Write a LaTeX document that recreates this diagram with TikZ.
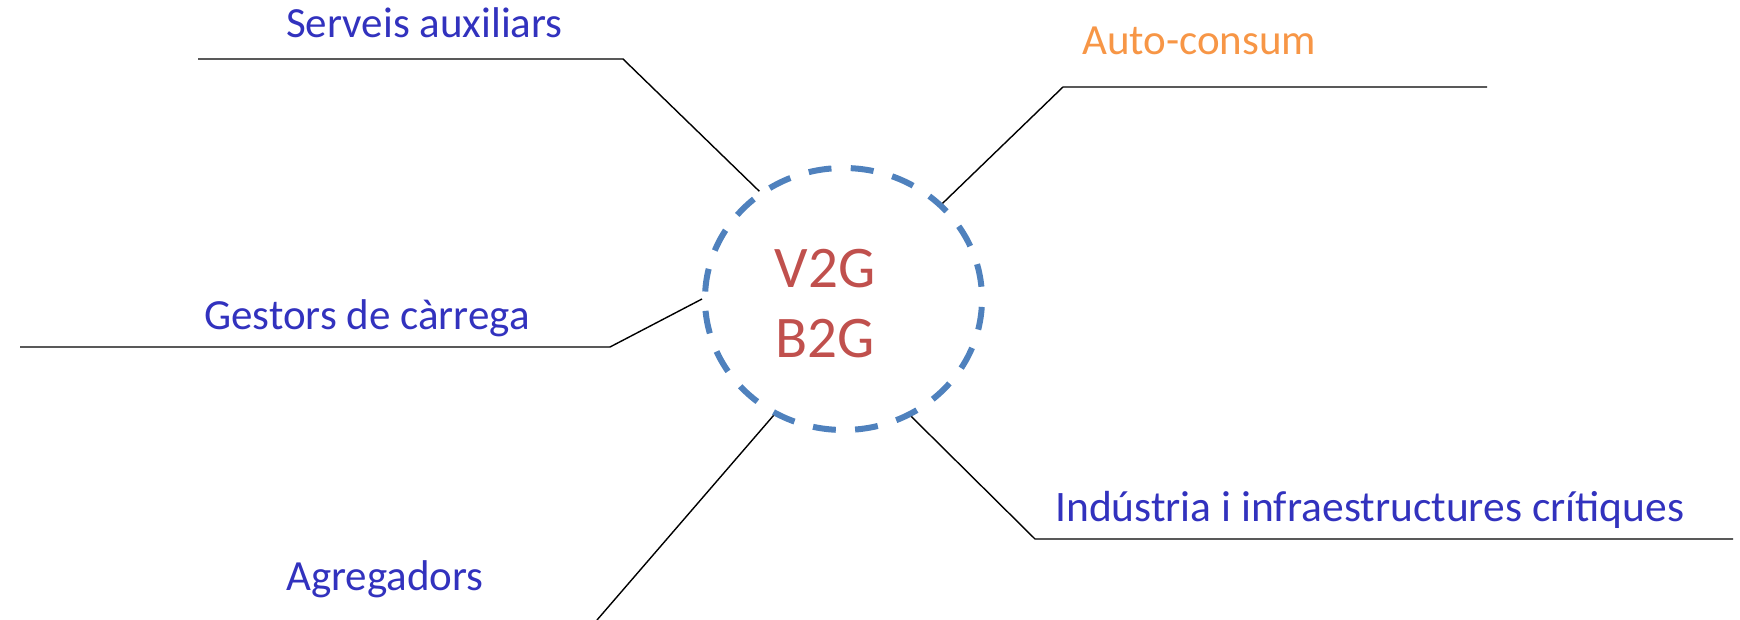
\documentclass[tikz,border=0pt]{standalone}
\usepackage{fontspec}
\setmainfont{Carlito}
\usetikzlibrary{shapes.geometric}
\definecolor{lblblue}{RGB}{50,50,190}
\definecolor{lblorange}{RGB}{247,150,70}
\definecolor{lblred}{RGB}{192,80,77}
\definecolor{ringblue}{RGB}{79,129,189}
\tikzset{
  lbl/.style={inner sep=0pt, anchor=base west, font=\fontsize{43}{50}\selectfont},
  core/.style={inner sep=0pt, anchor=base, text=lblred, font=\fontsize{59}{68}\selectfont},
  ring/.style={ellipse, draw=ringblue, line width=6pt, minimum width=277pt, minimum height=262pt, inner sep=0pt, dash pattern=on 23pt off 19.3pt, dash phase=30pt},
  leader/.style={draw=black, line width=1.4pt, line join=miter}
}
\begin{document}
\begin{tikzpicture}[x=1pt,y=-1pt]
\useasboundingbox (0,0) rectangle (1740,620);
\node[ring] (c) at (843.5,299) {};
\node[core] (v2g) at (825,288) {V2G};
\node[core] (b2g) at (825,357) {B2G};

\node[lbl, text=lblblue] (serveis) at (286,38) {Serveis auxiliars};
\node[lbl, text=lblorange] (auto) at (1082,55) {Auto-consum};
\node[lbl, text=lblblue] (gestors) at (204,329) {Gestors de càrrega};
\node[lbl, text=lblblue] (agreg) at (286,590) {Agregadors};
\node[lbl, text=lblblue, font=\fontsize{43.5}{50}\selectfont] (indus) at (1055,521) {Indústria i infraestructures crítiques};

\coordinate (s0) at (198,59);
\coordinate (s1) at (623,59);
\coordinate (a1) at (1063,87);
\coordinate (a0) at (1487,87);
\coordinate (g0) at (20,347);
\coordinate (g1) at (610,347);
\coordinate (r0) at (597,620);
\coordinate (i1) at (1035,539);
\coordinate (i0) at (1733,539);

\draw[leader] (s0) -- (s1) -- (c.128);
\draw[leader] (c.44) -- (a1) -- (a0);
\draw[leader] (g0) -- (g1) -- (c.180);
\draw[leader] (c.239) -- (r0);
\draw[leader] (c.300) -- (i1) -- (i0);
\end{tikzpicture}
\end{document}
